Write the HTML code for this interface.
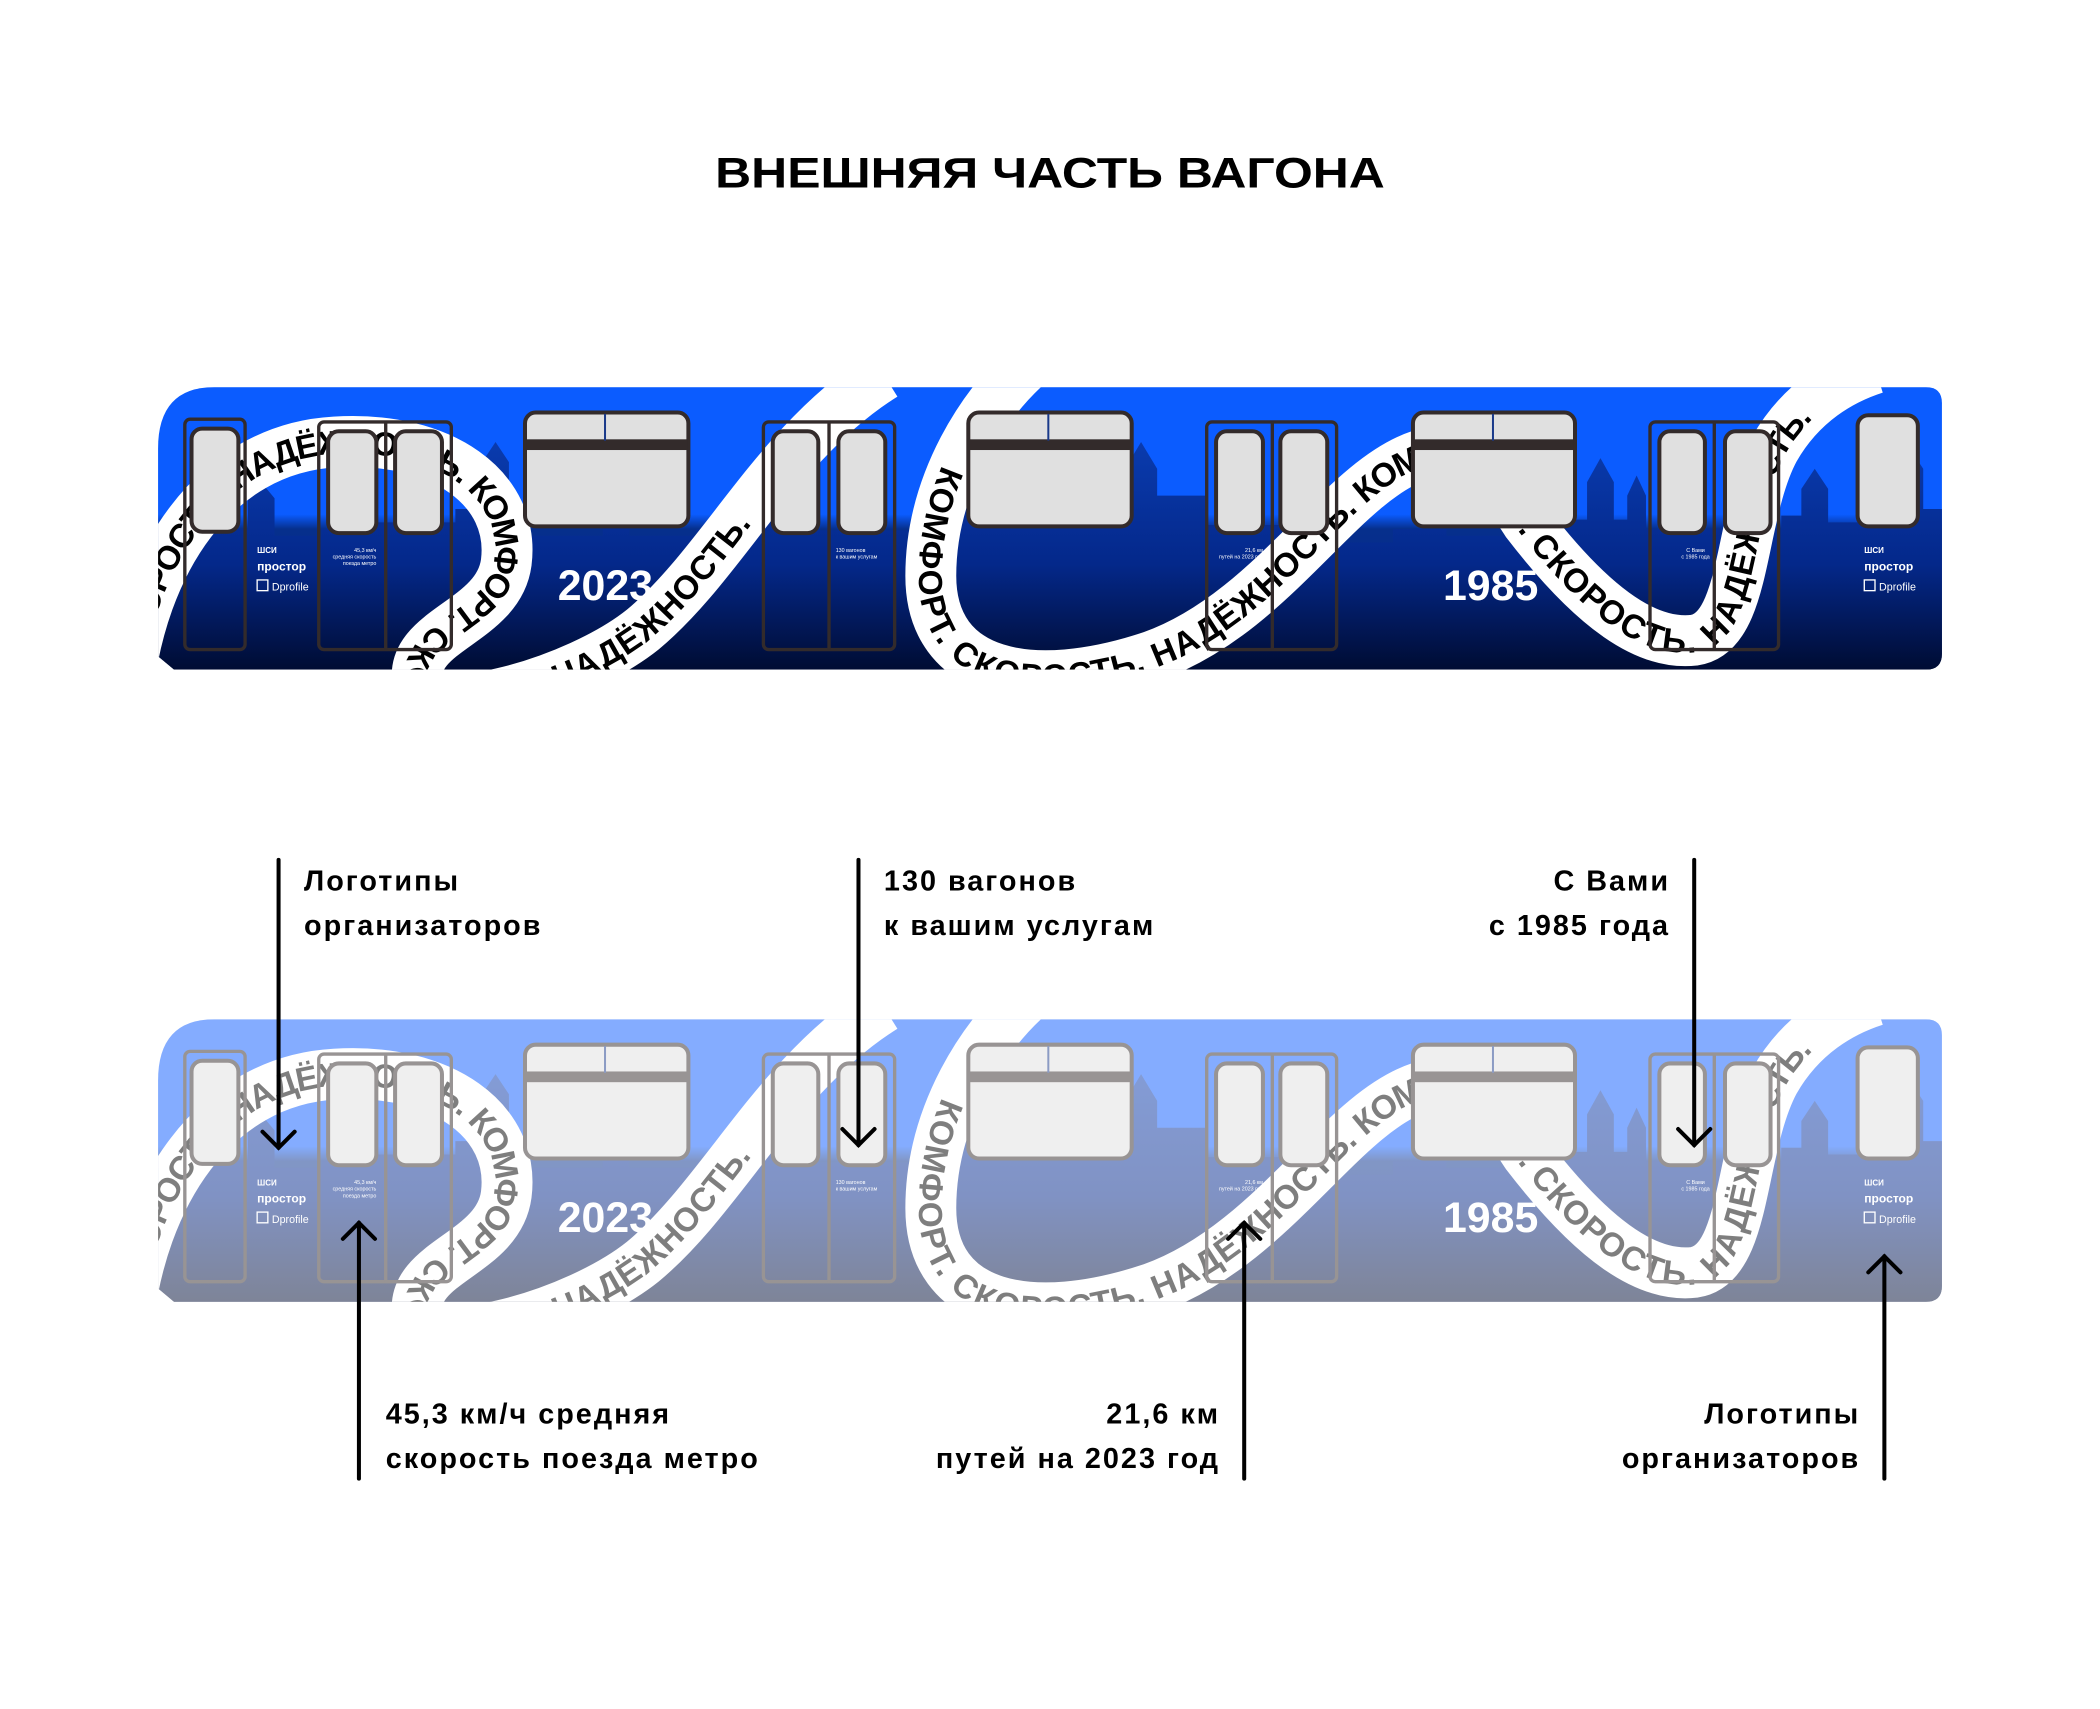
<!DOCTYPE html>
<html><head><meta charset="utf-8"><style>html,body{margin:0;padding:0;background:#fff}svg{display:block}</style></head>
<body>
<svg xmlns="http://www.w3.org/2000/svg" width="2100" height="1709" viewBox="0 0 1568 1276">
<defs>
<linearGradient id="bg" x1="0" y1="0" x2="0" y2="1">
<stop offset="0" stop-color="#0b5cff"/><stop offset="0.45" stop-color="#0b5cff"/><stop offset="0.5" stop-color="#062f8c"/><stop offset="0.8" stop-color="#05298a"/><stop offset="1" stop-color="#000c33"/></linearGradient>
<linearGradient id="sk" x1="0" y1="0" x2="0" y2="1">
<stop offset="0" stop-color="#0a3cb0"/><stop offset="0.55" stop-color="#04288a"/><stop offset="1" stop-color="#000c33"/></linearGradient>
<clipPath id="car"><path d="M160,289 H1438 Q1450,289 1450,301 V488 Q1450,500 1438,500 H130 L118,490 V335 Q118,289 160,289 Z"/></clipPath>
<path id="r1" d="M95,520 C105,420 160,335 250,330 C330,325 385,365 378,420 C372,465 305,470 312,510 C320,540 430,510 480,470 C540,420 580,330 660,280"/>
<path id="r2a" d="M770,270 C735,300 695,360 695,430 C695,505 770,520 860,490 C950,458 1000,360 1060,340"/>
<path id="r2b" d="M1140,390 C1190,455 1230,482 1265,478 C1305,472 1298,385 1325,335 C1345,300 1375,283 1400,275"/>
<g id="train">
<g clip-path="url(#car)">
<rect x="110" y="285" width="1350" height="220" fill="url(#bg)"/>
<path fill="url(#sk)" d="M118,500 V400 H140 V380 H160 V395 H185 V372 L195,360 L205,372 V400 H240 V395 H280 V390 H340 V380 H360 V345 L370,330 L380,345 V400 H415 V400 H450 V380 H455 V365 H462 V380 H470 V400 H520 V395 H560 V388 H600 V396 H700 V380 H735 V360 L745,350 L755,360 V395 H790 V370 H805 V340 L815,325 L825,340 V360 H840 V350 L852,330 L864,350 V370 H900 V392 H1000 V405 H1040 V395 H1080 V400 H1170 V388 H1185 V360 L1195,342 L1205,360 V388 H1215 V370 L1222,355 L1229,370 V395 H1330 V385 H1345 V365 L1355,350 L1365,365 V390 H1400 V370 H1420 V350 L1428,338 L1436,350 V380 H1450 V500 Z"/>
<path d="M95,520 C105,420 160,335 250,330 C330,325 385,365 378,420 C372,465 305,470 312,510 C320,540 430,510 480,470 C540,420 580,330 660,280" fill="none" stroke="#fff" stroke-width="38"/>
<path d="M770,270 C735,300 695,360 695,430 C695,505 770,520 860,490 C950,458 1000,360 1060,340 C1105,328 1120,360 1140,390 C1190,455 1230,482 1265,478 C1305,472 1298,385 1325,335 C1345,300 1375,283 1400,275" fill="none" stroke="#fff" stroke-width="38"/>
<g font-family="Liberation Sans,sans-serif" font-weight="bold" font-size="25" fill="#000">
<text dy="9"><textPath href="#r1" startOffset="30">СКОРОСТЬ. НАДЁЖНОСТЬ. КОМФОРТ. СКОРОСТЬ. НАДЁЖНОСТЬ.</textPath></text>
<text dy="9" text-anchor="end"><textPath href="#r2a" startOffset="100%">КОМФОРТ. СКОРОСТЬ. НАДЁЖНОСТЬ. КОМ</textPath></text>
<text dy="9"><textPath href="#r2b" startOffset="0">. СКОРОСТЬ. НАДЁЖНОСТЬ.</textPath></text>
</g>
<g fill="none" stroke="#332b2b" stroke-width="2.5">
<rect x="138" y="313" width="45" height="172" rx="4"/>
<rect x="238" y="315" width="99" height="170" rx="4"/><line x1="288" y1="315" x2="288" y2="485"/>
<rect x="570" y="315" width="98" height="170" rx="4"/><line x1="619" y1="315" x2="619" y2="485"/>
<rect x="901" y="315" width="97" height="170" rx="4"/><line x1="950" y1="315" x2="950" y2="485"/>
<rect x="1232" y="315" width="96" height="170" rx="4"/><line x1="1280" y1="315" x2="1280" y2="485"/>
</g>
<g fill="#e0e0e0" stroke="#332b2b" stroke-width="3">
<rect x="143" y="320" width="35" height="77" rx="8"/>
<rect x="245" y="322" width="36" height="76" rx="8"/><rect x="295" y="322" width="35" height="76" rx="8"/>
<rect x="577" y="322" width="34" height="76" rx="8"/><rect x="626" y="322" width="35" height="76" rx="8"/>
<rect x="908" y="322" width="35" height="76" rx="8"/><rect x="956" y="322" width="35" height="76" rx="8"/>
<rect x="1239" y="322" width="34" height="76" rx="8"/><rect x="1288" y="322" width="34" height="76" rx="8"/>
<rect x="1387" y="310" width="45" height="83" rx="8"/>
<rect x="392" y="308" width="122" height="85" rx="8"/>
<rect x="723" y="308" width="122" height="85" rx="8"/>
<rect x="1055" y="308" width="121" height="85" rx="8"/>
</g>
<g fill="#332b2b">
<rect x="393" y="328" width="120" height="8"/><rect x="451" y="309" width="1.5" height="20" fill="#1a3a8a"/>
<rect x="724" y="328" width="120" height="8"/><rect x="782" y="309" width="1.5" height="20" fill="#1a3a8a"/>
<rect x="1056" y="328" width="119" height="8"/><rect x="1114" y="309" width="1.5" height="20" fill="#1a3a8a"/>
</g>
<g font-family="Liberation Sans,sans-serif" font-weight="bold" fill="#fff">
<text x="452" y="448" font-size="32" text-anchor="middle">2023</text>
<text x="1113" y="448" font-size="32" text-anchor="middle">1985</text>
<text x="192" y="413" font-size="6">ШСИ</text><text x="192" y="426" font-size="9">простор</text>
<rect x="192" y="433" width="8" height="8" fill="none" stroke="#fff" stroke-width="1"/><text x="203" y="441" font-size="8" font-weight="normal">Dprofile</text>
<text x="1392" y="413" font-size="6">ШСИ</text><text x="1392" y="426" font-size="9">простор</text>
<rect x="1392" y="433" width="8" height="8" fill="none" stroke="#fff" stroke-width="1"/><text x="1403" y="441" font-size="8" font-weight="normal">Dprofile</text>
<g font-size="4" font-weight="normal">
<text x="281" y="412" text-anchor="end">45,3 км/ч</text><text x="281" y="417" text-anchor="end">средняя скорость</text><text x="281" y="422" text-anchor="end">поезда метро</text>
<text x="624" y="412">130 вагонов</text><text x="624" y="417">к вашим услугам</text>
<text x="943" y="412" text-anchor="end">21,6 км</text><text x="943" y="417" text-anchor="end">путей на 2023 год</text>
<text x="1266" y="412" text-anchor="middle">С Вами</text><text x="1266" y="417" text-anchor="middle">с 1985 года</text>
</g>
</g>
</g>
</g>
</defs>
<rect width="1568" height="1276" fill="#fff"/>
<text x="784" y="140" font-family="Liberation Sans,sans-serif" font-weight="bold" font-size="32" text-anchor="middle" textLength="500" lengthAdjust="spacingAndGlyphs">ВНЕШНЯЯ ЧАСТЬ ВАГОНА</text>
<use href="#train"/>
<use href="#train" transform="translate(0,472)" opacity="0.5"/>
<g stroke="#000" stroke-width="3" fill="none" stroke-linecap="round">
<line x1="208" y1="642" x2="208" y2="857"/><polyline points="196,845 208,857 220,845"/>
<line x1="641" y1="642" x2="641" y2="855"/><polyline points="629,843 641,855 653,843"/>
<line x1="1265" y1="642" x2="1265" y2="855"/><polyline points="1253,843 1265,855 1277,843"/>
<line x1="268" y1="1104" x2="268" y2="913"/><polyline points="256,925 268,913 280,925"/>
<line x1="929" y1="1104" x2="929" y2="913"/><polyline points="917,925 929,913 941,925"/>
<line x1="1407" y1="1104" x2="1407" y2="938"/><polyline points="1395,950 1407,938 1419,950"/>
</g>
<g font-family="Liberation Sans,sans-serif" font-weight="bold" font-size="21.5" fill="#000" letter-spacing="1.5">
<text x="227" y="665">Логотипы</text><text x="227" y="698">организаторов</text>
<text x="660" y="665">130 вагонов</text><text x="660" y="698">к вашим услугам</text>
<text x="1247" y="665" text-anchor="end">С Вами</text><text x="1247" y="698" text-anchor="end">с 1985 года</text>
<text x="288" y="1063">45,3 км/ч средняя</text><text x="288" y="1096">скорость поезда метро</text>
<text x="911" y="1063" text-anchor="end">21,6 км</text><text x="911" y="1096" text-anchor="end">путей на 2023 год</text>
<text x="1389" y="1063" text-anchor="end">Логотипы</text><text x="1389" y="1096" text-anchor="end">организаторов</text>
</g>
</svg>
</body></html>
